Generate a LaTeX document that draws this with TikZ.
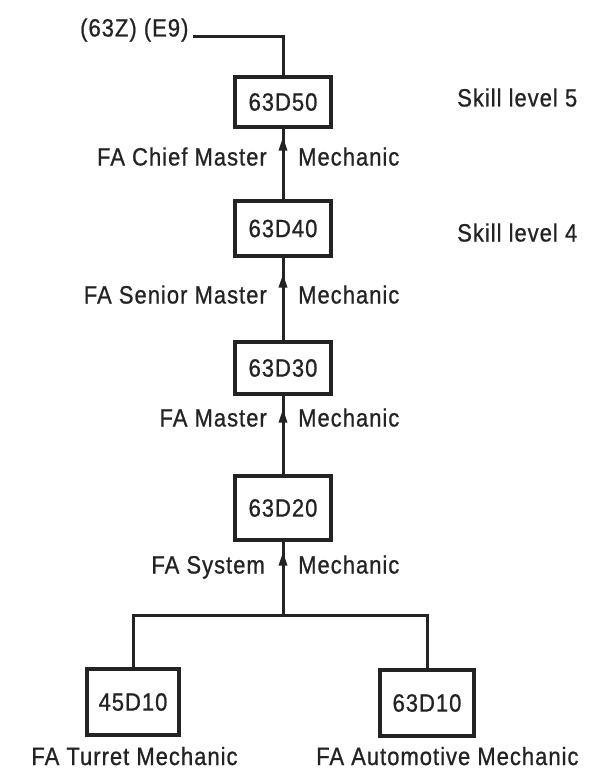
\documentclass[tikz,border=0pt]{standalone}
\usepackage{fontspec}
\setmainfont{Liberation Sans}[FakeStretch=0.88, LetterSpace=4, FakeBold=0.8]
\usetikzlibrary{arrows.meta,decorations.markings}
\definecolor{ink}{RGB}{35,35,35}
\begin{document}
\begin{tikzpicture}[x=1pt,y=-1pt,
  every node/.style={font=\fontsize{25}{30}\selectfont, text=ink, inner sep=0pt},
  box/.style={draw=ink, line width=3.2pt, minimum width=96pt},
  conn/.style={draw=ink, line width=3pt},
  up/.style={conn, postaction={decorate}, decoration={markings, mark=at position -#1 with {\arrow{Triangle[length=14pt,width=8pt]}}}},
]
\useasboundingbox (0,0) rectangle (613,770);

% boxes
\node[box, minimum height=50pt] (b5) at (283,102) {63D50};
\node[box, minimum height=55pt] (b4) at (283,228.5) {63D40};
\node[box, minimum height=52pt] (b3) at (283,368) {63D30};
\node[box, minimum height=64pt] (b2) at (283,508) {63D20};
\node[box, minimum width=92pt, minimum height=66pt] (b45) at (133,702) {45D10};
\node[box, minimum width=94pt, minimum height=66pt] (b63) at (427,703) {63D10};

% top label and line
\node[anchor=base west] (top) at (80,36.5) {(63Z) (E9)};
\coordinate (tl) at (193,37);
\draw[conn] (tl) -| (b5.north);

% arrows between levels
\draw[up=8pt] (b4.north) -- (b5.south);
\draw[up=16pt] (b3.north) -- (b4.south);
\draw[up=13pt] (b2.north) -- (b3.south);

% branch to entry level
\coordinate (jn) at (283,615);
\draw[up=10pt] (jn) -- (b2.south);
\draw[conn] (b45.north) |- (jn) -| (b63.north);

% title labels
\node[anchor=base east] (l5a) at (267,165.5) {FA Chief Master};
\node[anchor=base west] (l5b) at (298,165.5) {Mechanic};
\node[anchor=base east] (l4a) at (267,303.5) {FA Senior Master};
\node[anchor=base west] (l4b) at (298,303.5) {Mechanic};
\node[anchor=base east] (l3a) at (267,426.5) {FA Master};
\node[anchor=base west] (l3b) at (298,426.5) {Mechanic};
\node[anchor=base east] (l2a) at (265,573.5) {FA System};
\node[anchor=base west] (l2b) at (298,573.5) {Mechanic};

% skill levels
\node[anchor=base west] (s5) at (457,106.5) {Skill level 5};
\node[anchor=base west] (s4) at (457,241.5) {Skill level 4};

% bottom labels
\node[anchor=base] (lt) at (134.5,765) {FA Turret Mechanic};
\node[anchor=base west] (la) at (316,765) {FA Automotive Mechanic};
\end{tikzpicture}
\end{document}
